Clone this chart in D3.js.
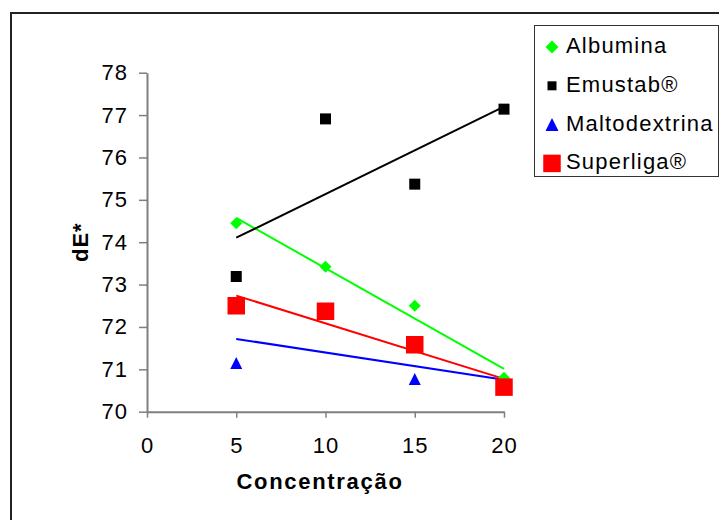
<!DOCTYPE html>
<html>
<head>
<meta charset="utf-8">
<script src="https://cdn.jsdelivr.net/npm/d3@7"></script>
<style>
  html, body { margin: 0; padding: 0; background: #fff; }
  svg { display: block; font-family: "Liberation Sans", Arial, sans-serif; }
</style>
</head>
<body>
<svg id="chart" width="719" height="520"></svg>
<script>
// Concentration levels (x) and dE* readings per encapsulating agent
const concentrations = [5, 10, 15, 20];
const albumina      = [74.45, 73.42, 72.50, 70.80];
const emustab       = [73.19, 76.91, 75.37, 77.14];
const maltodextrina = [71.15, 72.40, 70.77, 70.62];
const superliga     = [72.50, 72.37, 71.58, 70.58];

const seriesNames = ["Albumina", "Emustab®", "Maltodextrina", "Superliga®"];
const xTicks = [0, 5, 10, 15, 20];
const yTicks = [70, 71, 72, 73, 74, 75, 76, 77, 78];

const series = [
  { name: seriesNames[0], values: albumina,      color: "#00ff00", shape: "diamond",  size: 12 },
  { name: seriesNames[1], values: emustab,       color: "#000000", shape: "square",   size: 11 },
  { name: seriesNames[2], values: maltodextrina, color: "#0000ff", shape: "triangle", size: 12 },
  { name: seriesNames[3], values: superliga,     color: "#ff0000", shape: "square",   size: 17.5 }
];

const svg = d3.select("#chart");

// outer chart frame
svg.append("rect")
  .attr("x", 11).attr("y", 13)
  .attr("width", 740).attr("height", 540)
  .attr("fill", "none").attr("stroke", "#222").attr("stroke-width", 2);

const x = d3.scaleLinear().domain([0, 20]).range([147, 504]);
const y = d3.scaleLinear().domain([70, 78]).range([411.7, 72.7]);

// axes
const gx = svg.append("g").attr("transform", `translate(0,${y(70)})`)
  .call(d3.axisBottom(x).tickValues(xTicks).tickSize(6).tickSizeOuter(0).tickPadding(20));
const gy = svg.append("g").attr("transform", `translate(${x(0)},0)`)
  .call(d3.axisLeft(y).tickValues(yTicks).tickSize(8).tickSizeOuter(0).tickPadding(11));

[gx, gy].forEach(g => {
  g.selectAll("path.domain").attr("stroke", "#7f7f7f").attr("stroke-width", 2);
  g.selectAll(".tick line").attr("stroke", "#7f7f7f").attr("stroke-width", 1.5);
  g.selectAll(".tick text")
    .attr("fill", "#000")
    .style("font-size", "22px")
    .style("letter-spacing", "1px")
    .style("font-family", "'Liberation Sans', Arial, sans-serif");
});
gy.selectAll(".tick text").attr("dy", "0.32em");

// axis titles
svg.append("text")
  .attr("x", 320).attr("y", 489)
  .attr("text-anchor", "middle")
  .style("font-size", "22px").style("font-weight", "bold").style("letter-spacing", "1.7px")
  .text("Concentração");

svg.append("text")
  .attr("transform", `translate(88,${y(74)}) rotate(-90)`)
  .attr("text-anchor", "middle")
  .style("font-size", "22px").style("font-weight", "bold").style("letter-spacing", "1px")
  .text("dE*");

// least-squares trend line for a series
function trend(vals) {
  const mx = d3.mean(concentrations), my = d3.mean(vals);
  let sxy = 0, sxx = 0;
  concentrations.forEach((c, i) => { sxy += (c - mx) * (vals[i] - my); sxx += (c - mx) ** 2; });
  const b = sxy / sxx, a = my - b * mx;
  const x0 = d3.min(concentrations), x1 = d3.max(concentrations);
  return [[x0, a + b * x0], [x1, a + b * x1]];
}

const line = d3.line().x(d => x(d[0])).y(d => y(d[1]));
series.forEach(s => {
  svg.append("path")
    .attr("d", line(trend(s.values)))
    .attr("fill", "none").attr("stroke", s.color).attr("stroke-width", 2);
});

function markerPath(shape, size) {
  const h = size / 2;
  if (shape === "diamond") return `M0,${-h}L${h},0L0,${h}L${-h},0Z`;
  if (shape === "triangle") return `M0,${-h}L${h},${h}L${-h},${h}Z`;
  return `M${-h},${-h}H${h}V${h}H${-h}Z`;
}

series.forEach(s => {
  svg.append("g").selectAll("path")
    .data(s.values)
    .join("path")
    .attr("transform", (v, i) => `translate(${x(concentrations[i])},${y(v)})`)
    .attr("d", markerPath(s.shape, s.size))
    .attr("fill", s.color);
});

// legend
const legend = svg.append("g");
legend.append("rect")
  .attr("x", 534.5).attr("y", 25.5)
  .attr("width", 184).attr("height", 151)
  .attr("fill", "#fff").attr("stroke", "#333").attr("stroke-width", 1);

const legendSizes = [13, 9, 13, 17.5];
series.forEach((s, i) => {
  const cy = 45 + i * 38.8;
  legend.append("path")
    .attr("transform", `translate(552,${cy + 2})`)
    .attr("d", markerPath(s.shape, legendSizes[i]))
    .attr("fill", s.color);
  legend.append("text")
    .attr("x", 566).attr("y", cy).attr("dy", "0.36em")
    .style("font-size", "22px").style("letter-spacing", "1.2px")
    .text(s.name);
});
</script>
</body>
</html>
